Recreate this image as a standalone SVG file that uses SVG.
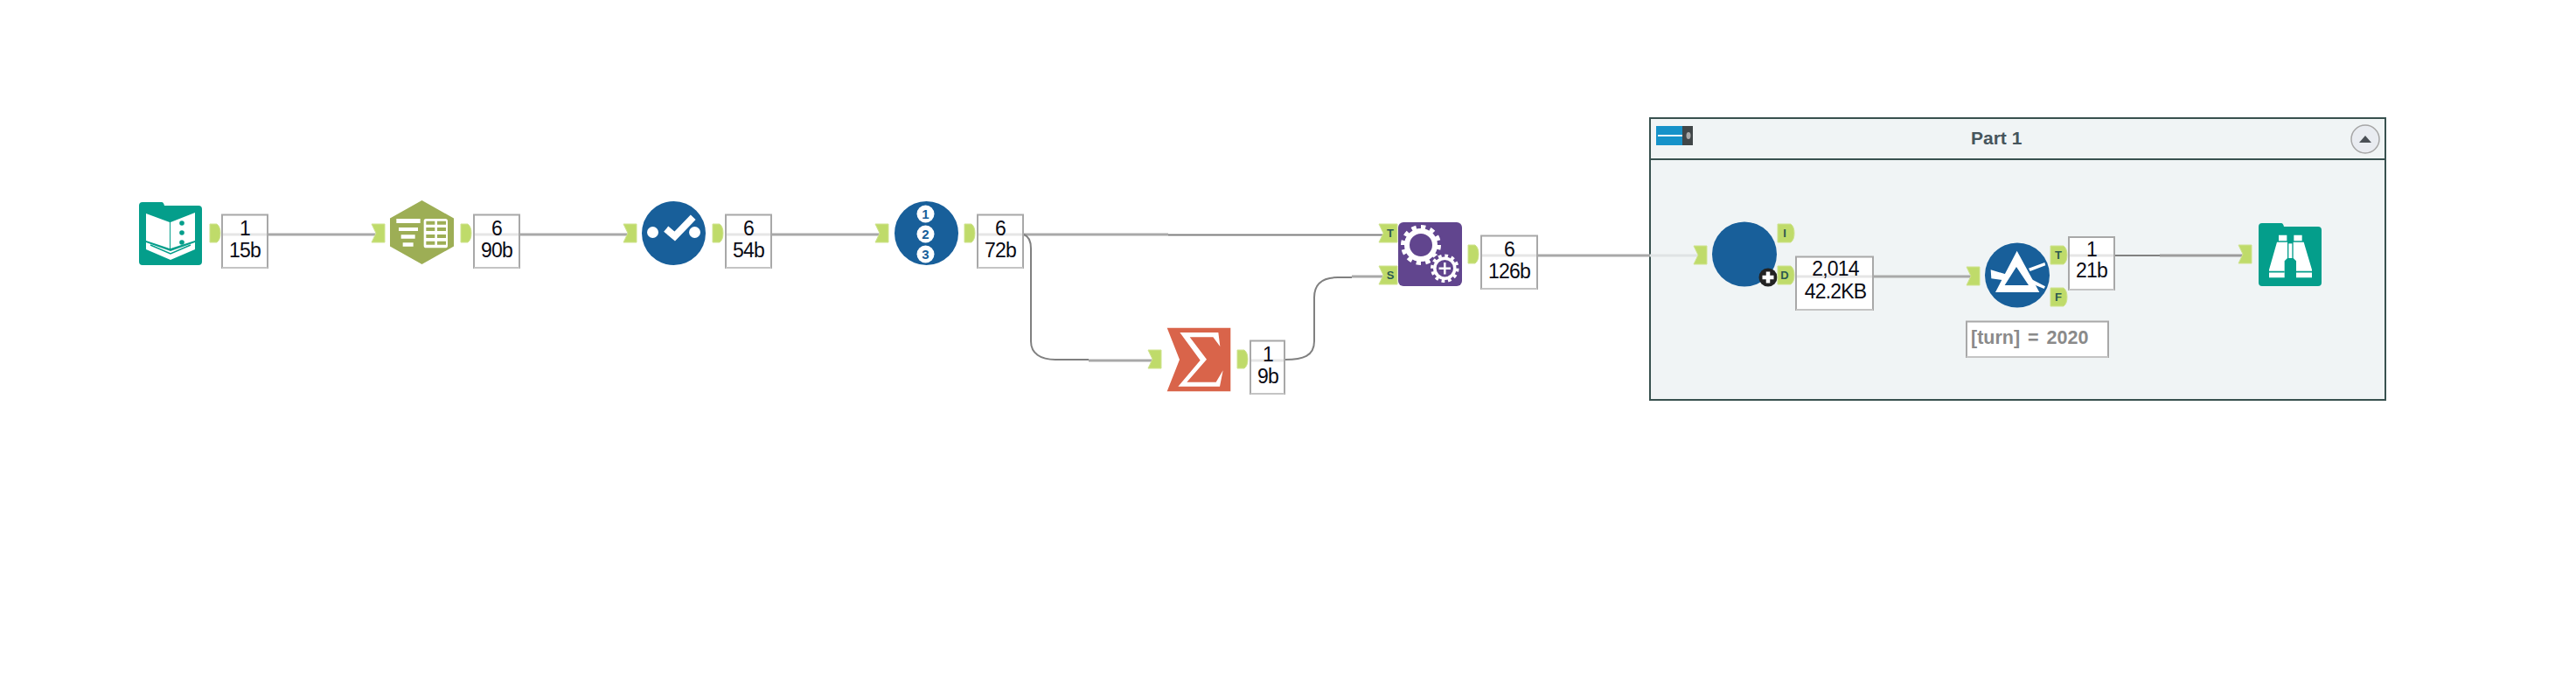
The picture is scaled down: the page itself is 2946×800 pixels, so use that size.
<svg xmlns="http://www.w3.org/2000/svg" xmlns:xlink="http://www.w3.org/1999/xlink" width="2946" height="800" viewBox="0 0 2946 800">
<style>
text{font-family:"Liberation Sans",Arial,sans-serif}
.count{font-size:23px;fill:#0a0a14;text-anchor:middle;letter-spacing:-.8px}
.box{fill:#fff;stroke:#a8a8a8;stroke-width:2}
.boxb{stroke:#c4c4c4;stroke-width:2;fill:none}
.mid{stroke:#e6e6e6;stroke-width:3;fill:none}
.anchor{fill:#bfdb6a;stroke:#cfe38f;stroke-width:1}
.alabel{font-size:13px;font-weight:bold;fill:#2c5a50;text-anchor:middle}
.wire{fill:none;stroke:#a9a9a9;stroke-width:3}
.wire2{fill:none;stroke:#808080;stroke-width:2}
.teal{fill:#049e8b}
.blue{fill:#185f9a}
.w{fill:#fff}
</style>
<defs>
<path id="ain" class="anchor" d="M0,0H15V21H0L5,10.500Z"/>
<path id="aout" class="anchor" d="M0,0H8Q12,3 12,10.500Q12,18 8,21H0Z"/>
<path id="ainw" class="anchor" d="M0,0H21V21H0L5,10.500Z"/>
<path id="aoutw" class="anchor" d="M0,0H15Q19,3 19,10.500Q19,18 15,21H0Z"/>
<path id="folder" class="teal" d="M4,0H26Q28,0 29,4H68Q72,4 72,8V68Q72,72 68,72H4Q0,72 0,68V4Q0,0 4,0Z"/>
</defs>

<g id="container-part-1">
<rect x="1887" y="135" width="841" height="322" fill="#f0f4f5" stroke="#38514f" stroke-width="2"/>
<path d="M1887,182H2728" stroke="#38514f" stroke-width="2"/>
<rect x="1894" y="144" width="30" height="22" fill="#1592c9"/>
<rect x="1924" y="144" width="12" height="22" fill="#404648"/>
<path d="M1896,155H1924" stroke="#e8f4fa" stroke-width="2"/>
<ellipse cx="1931" cy="155" rx="2.500" ry="4" fill="#a8a8a8"/>
<text x="2254" y="165" style="font-size:21px;font-weight:bold;fill:#46555c">Part 1</text>
<circle cx="2705" cy="159" r="16" fill="#e9ecf1" stroke="#a6a6a6" stroke-width="1.500"/>
<path d="M2698,163L2705,155L2712,163Z" fill="#4a4f55"/>
</g>

<g id="connectors">
<path class="wire" d="M307,268H431"/>
<path class="wire" d="M595,268H719"/>
<path class="wire" d="M883,268H1007"/>
<path class="wire" d="M1171,268H1336"/>
<path class="wire2" d="M1336,268.500H1583"/>
<path class="wire2" d="M1171,268C1176,270 1179,276 1179,284V390C1179,404 1190,411 1207,411H1245"/>
<path class="wire" d="M1245,412H1319"/>
<path class="wire2" d="M1470,411C1490,411 1503,407 1503,390V340C1503,325 1512,317 1530,317H1546"/>
<path class="wire" d="M1546,316H1583"/>
<path class="wire" d="M1759,292H1887"/>
<path d="M1887,292H1943" fill="none" stroke="#dfe3e4" stroke-width="3"/>
<path class="wire" d="M2143,316H2255"/>
<path class="wire2" d="M2419,292H2470"/>
<path class="wire" d="M2470,292H2566" style="stroke:#9c9c9c"/>
</g>

<g id="node-input">
<use xlink:href="#folder" x="159" y="231"/>
<g transform="translate(159,231)">
<path class="w" d="M8,13L35,23V53L8,44Z"/>
<path class="w" d="M36,23L64,12V44L36,53Z"/>
<circle cx="49" cy="24" r="2.800" class="teal"/><circle cx="49" cy="35" r="2.800" class="teal"/><circle cx="49" cy="46" r="2.800" class="teal"/>
<path class="w" d="M8,46L36,56L64,46V54L36,66L8,54Z"/>
<path d="M13,49L36,59L59,49" fill="none" stroke="#049e8b" stroke-width="1.500"/>
</g>
<use xlink:href="#aout" x="240" y="256"/>
<rect class="box" x="254" y="245.500" width="52" height="60.500"/><path class="boxb" d="M254,306H306"/><path class="mid" d="M255,268H305"/>
<text class="count" x="280" y="269">1</text><text class="count" x="280" y="294">15b</text>
</g>

<g id="node-text-to-columns">
<use xlink:href="#ain" x="425" y="256"/>
<path d="M482.500,229L519,249.500V281.500L482.500,302L446,281.500V249.500Z" fill="#9dae55"/>
<g transform="translate(130,200) scale(.33333)">
<path class="w" d="M970,150H1052V165H970ZM978,180H1044V192H978ZM986,205H1034V218H986ZM992,232H1028V245H992Z"/>
<rect class="w" x="1064" y="150" width="82" height="100" rx="8"/>
<path d="M1072,158h30v12h-30ZM1110,158h30v12h-30ZM1072,180h30v12h-30ZM1110,180h30v12h-30ZM1072,204h30v12h-30ZM1110,204h30v12h-30ZM1072,227h30v12h-30ZM1110,227h30v12h-30Z" fill="#9dae55"/>
</g>
<use xlink:href="#aout" x="527" y="256"/>
<rect class="box" x="542" y="245.500" width="52" height="60.500"/><path class="boxb" d="M542,306H594"/><path class="mid" d="M543,268H593"/>
<text class="count" x="568" y="269">6</text><text class="count" x="568" y="294">90b</text>
</g>

<g id="node-select">
<use xlink:href="#ain" x="713" y="256"/>
<circle class="blue" cx="770.500" cy="266.500" r="36.500"/>
<circle class="w" cx="746.500" cy="265.500" r="6.500"/><circle class="w" cx="794.500" cy="265.500" r="6.500"/>
<path d="M761.700,261.700L771.700,270L792.700,248.300" fill="none" stroke="#fff" stroke-width="8"/>
<use xlink:href="#aout" x="815" y="256"/>
<rect class="box" x="830" y="245.500" width="52" height="60.500"/><path class="boxb" d="M830,306H882"/><path class="mid" d="M831,268H881"/>
<text class="count" x="856" y="269">6</text><text class="count" x="856" y="294">54b</text>
</g>

<g id="node-record-id">
<use xlink:href="#ain" x="1001" y="256"/>
<circle class="blue" cx="1059.500" cy="266.500" r="36.500"/>
<circle class="w" cx="1058.500" cy="244.500" r="10"/><circle class="w" cx="1058.500" cy="267.500" r="10"/><circle class="w" cx="1058.500" cy="290.500" r="10"/>
<g style="font-size:15px;font-weight:bold;fill:#185f9a;text-anchor:middle">
<text x="1058.500" y="250">1</text><text x="1058.500" y="273">2</text><text x="1058.500" y="296">3</text>
</g>
<use xlink:href="#aout" x="1103" y="256"/>
<rect class="box" x="1118" y="245.500" width="52" height="60.500"/><path class="boxb" d="M1118,306H1170"/><path class="mid" d="M1119,268H1169"/>
<text class="count" x="1144" y="269">6</text><text class="count" x="1144" y="294">72b</text>
</g>

<g id="node-summarize">
<use xlink:href="#ain" x="1313" y="400"/>
<path d="M1334.700,374.700H1407.300V447.300H1334.700L1349,411Z" fill="#d9644a"/>
<g transform="translate(1130,220) scale(.33333)">
<path class="w" d="M658,480H790L796,528L772,496H692L750,572L682,650H782L806,610L795,665H652L728,575Z"/>
</g>
<use xlink:href="#aout" x="1415" y="400"/>
<rect class="box" x="1430" y="389.500" width="39" height="60.500"/><path class="boxb" d="M1430,450H1469"/><path class="mid" d="M1431,412H1468"/>
<text class="count" x="1450" y="413">1</text><text class="count" x="1450" y="438">9b</text>
</g>

<g id="node-append">
<use xlink:href="#ainw" x="1577" y="256"/><text class="alabel" x="1590" y="271">T</text>
<use xlink:href="#ainw" x="1577" y="304"/><text class="alabel" x="1590" y="319">S</text>
<rect x="1599" y="254" width="73" height="73" rx="6" fill="#61458e"/>
<g fill="none" stroke="#fff">
<circle cx="1625" cy="280" r="16" stroke-width="6"/>
<circle cx="1625" cy="280" r="20.500" stroke-width="5" pathLength="24" stroke-dasharray="1 1"/>
<circle cx="1652.300" cy="306.700" r="17.500" fill="#61458e" stroke="none"/>
<circle cx="1652.300" cy="306.700" r="11.500" stroke-width="3.500"/>
<circle cx="1652.300" cy="306.700" r="14.500" stroke-width="3.500" pathLength="24" stroke-dasharray="1 1"/>
<path d="M1652.300,300V313.400M1645.600,306.700H1659" stroke-width="2.500"/>
</g>
<use xlink:href="#aout" x="1679" y="280"/>
<rect class="box" x="1694" y="269.500" width="64" height="60.500"/><path class="boxb" d="M1694,330H1758"/><path class="mid" d="M1695,292H1757"/>
<text class="count" x="1726" y="293">6</text><text class="count" x="1726" y="318">126b</text>
</g>

<g id="node-macro">
<use xlink:href="#ain" x="1937" y="281"/>
<circle class="blue" cx="1995" cy="290.500" r="37"/>
<circle cx="2022" cy="317" r="10.500" fill="#222"/>
<path d="M2022,310.500V323.500M2015.500,317H2028.500" stroke="#fff" stroke-width="4.500"/>
<use xlink:href="#aoutw" x="2033" y="256"/><text class="alabel" x="2041" y="271">I</text>
<use xlink:href="#aoutw" x="2033" y="304"/><text class="alabel" x="2041" y="319">D</text>
<rect class="box" x="2054" y="293.500" width="88" height="60.500"/><path class="boxb" d="M2054,354H2142"/><path class="mid" d="M2055,316H2141"/>
<text class="count" x="2099" y="315">2,014</text><text class="count" x="2099" y="341">42.2KB</text>
</g>

<g id="node-filter">
<use xlink:href="#ain" x="2249" y="305"/>
<circle class="blue" cx="2307" cy="314.500" r="37"/>
<g transform="translate(2240,240) scale(.33333)">
<path class="w" d="M200,140L277,282H126ZM198,195L158,258H240Z" fill-rule="evenodd"/>
<path class="w" d="M110,205L178,225L150,240L112,235ZM240,200L295,180L298,190L245,210ZM245,235L297,262L293,270L240,248Z"/>
</g>
<use xlink:href="#aoutw" x="2345" y="281"/><text class="alabel" x="2354" y="296">T</text>
<use xlink:href="#aoutw" x="2345" y="329"/><text class="alabel" x="2354" y="344">F</text>
<rect class="box" x="2366" y="271" width="52" height="60"/><path class="boxb" d="M2366,331H2418"/><path class="mid" d="M2367,292H2417"/>
<text class="count" x="2392" y="293">1</text><text class="count" x="2392" y="317">21b</text>
<rect class="box" x="2249" y="367.500" width="162" height="40.500"/><path class="boxb" d="M2249,408H2411"/>
<text x="2254" y="393" style="font-size:21.500px;font-weight:bold;fill:#8a8a8a;word-spacing:3px">[turn] = 2020</text>
</g>

<g id="node-browse">
<use xlink:href="#ain" x="2560" y="280"/>
<use xlink:href="#folder" x="2583" y="255"/>
<g transform="translate(2540,130) scale(.33333)">
<path class="w" d="M198,416H226V436H198ZM250,416H278V436H250Z"/>
<path class="w" d="M192,440H228V495L218,505V562H165V535Z"/>
<path class="w" d="M284,440H248V495L258,505V562H312V535Z"/>
<path class="w" d="M232,445H244V495H232Z"/>
<path d="M165,542H218M258,542H312" stroke="#049e8b" stroke-width="5"/>
</g>
</g>
</svg>
